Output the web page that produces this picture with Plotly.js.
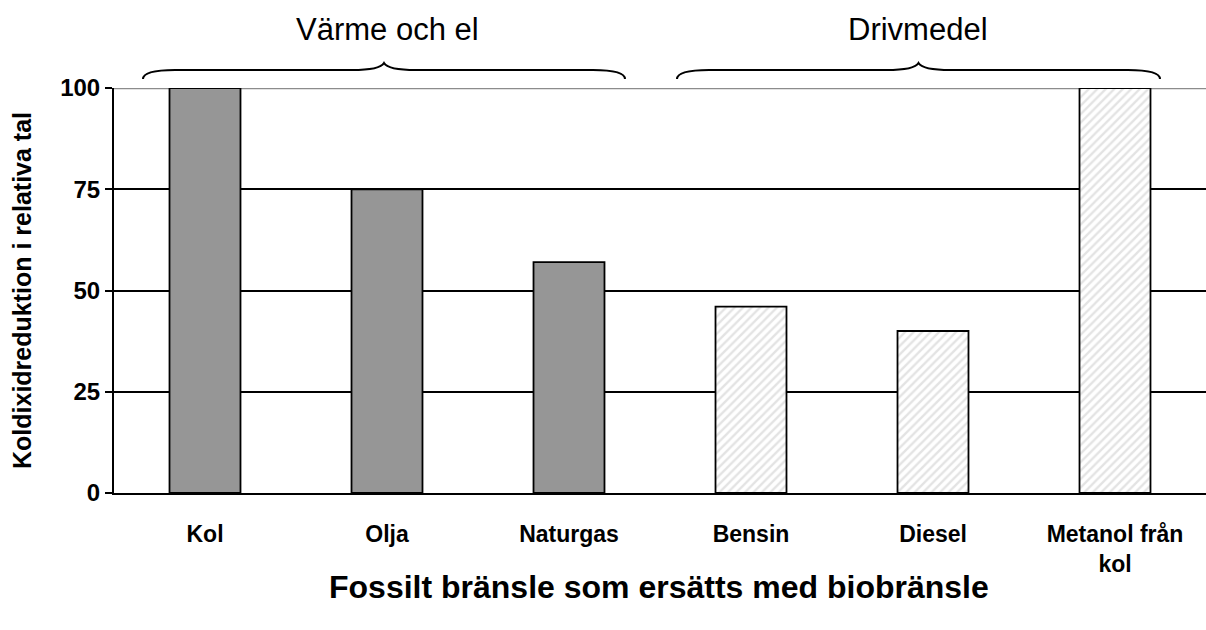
<!DOCTYPE html>
<html>
<head>
<meta charset="utf-8">
<script src="https://cdn.plot.ly/plotly-3.0.1.min.js"></script>
<style>html,body{margin:0;padding:0;background:#fff}#chart{width:1206px;height:630px}</style>
</head>
<body>
<div id="chart"></div>
<script>
const categories = ["Kol", "Olja", "Naturgas", "Bensin", "Diesel", "Metanol från<br>kol"];
const heatValues = [100, 75, 57, null, null, null];
const fuelValues = [null, null, null, 46, 40, 100];
const groupLabels = ["Värme och el", "Drivmedel"];
const xTitle = "Fossilt bränsle som ersätts med biobränsle";
const yTitle = "Koldixidreduktion i relativa tal";
const yTicks = [0, 25, 50, 75, 100];

const FONT = "Liberation Sans, Arial, sans-serif";
const W = 1206, H = 630;
const mL = 114, mR = 0, mT = 88, mB = 137;
const pw = W - mL - mR, ph = H - mT - mB;
const px = x => (x - mL) / pw;
const py = y => (H - mB - y) / ph;

function brace(x0, x1, yEnd, yFlat, yTip) {
  const mid = (x0 + x1) / 2;
  const c = 32;
  const P = (x, y) => px(x).toFixed(5) + "," + py(y).toFixed(5);
  return "M" + P(x0, yEnd) +
    " Q" + P(x0, yFlat) + " " + P(x0 + c, yFlat) +
    " L" + P(mid - c, yFlat) +
    " Q" + P(mid - 4, yFlat) + " " + P(mid, yTip) +
    " Q" + P(mid + 4, yFlat) + " " + P(mid + c, yFlat) +
    " L" + P(x1 - c, yFlat) +
    " Q" + P(x1, yFlat) + " " + P(x1, yEnd);
}

const heatTrace = {
  type: "bar", name: groupLabels[0],
  x: categories, y: heatValues,
  width: 0.39,
  marker: {color: "#969696", line: {color: "#000", width: 1.8}},
  hoverinfo: "x+y"
};
const fuelTrace = {
  type: "bar", name: groupLabels[1],
  x: categories, y: fuelValues,
  width: 0.39,
  marker: {
    color: "#ffffff",
    line: {color: "#000", width: 1.8},
    pattern: {shape: "/", fgcolor: "#c8c8c8", bgcolor: "#ffffff", size: 6, solidity: 0.4, fillmode: "overlay"}
  },
  hoverinfo: "x+y"
};

const layout = {
  width: W, height: H,
  margin: {l: mL, r: mR, t: mT, b: mB},
  paper_bgcolor: "#fff", plot_bgcolor: "#fff",
  showlegend: false,
  barmode: "overlay",
  font: {family: FONT, color: "#000"},
  xaxis: {
    type: "category",
    showline: true, linecolor: "#000", linewidth: 2,
    ticks: "outside", ticklen: 19, tickcolor: "rgba(0,0,0,0)",
    tickfont: {family: FONT, size: 23, color: "#000", weight: "bold"},
    automargin: false, fixedrange: true
  },
  yaxis: {
    range: [0, 100],
    tickvals: yTicks,
    ticktext: yTicks.map(v => "<b>" + v + "</b>"),
    showline: true, linecolor: "#000", linewidth: 2,
    ticks: "outside", ticklen: 7, tickwidth: 2, tickcolor: "#000",
    showgrid: true, gridcolor: "#000", gridwidth: 2,
    zeroline: false,
    tickfont: {family: FONT, size: 24, color: "#000"},
    title: {text: "<b>" + yTitle + "</b>", font: {family: FONT, size: 25, color: "#000"}, standoff: 21},
    automargin: false, fixedrange: true
  },
  shapes: [
    {type: "line", xref: "paper", yref: "y", x0: 0, x1: 1, y0: 100, y1: 100, line: {color: "#8c8c8c", width: 2.5}, layer: "below"},
    {type: "path", xref: "paper", yref: "paper", path: brace(143, 625, 79, 70, 63), line: {color: "#000", width: 2}},
    {type: "path", xref: "paper", yref: "paper", path: brace(677, 1160, 79, 70, 63), line: {color: "#000", width: 2}}
  ],
  annotations: [
    {xref: "paper", yref: "paper", x: px(387), y: py(30), text: groupLabels[0], showarrow: false, font: {family: FONT, size: 31, color: "#000"}, xanchor: "center", yanchor: "middle"},
    {xref: "paper", yref: "paper", x: px(918), y: py(30), text: groupLabels[1], showarrow: false, font: {family: FONT, size: 31, color: "#000"}, xanchor: "center", yanchor: "middle"},
    {xref: "paper", yref: "paper", x: px(659), y: py(587), text: "<b>" + xTitle + "</b>", showarrow: false, font: {family: FONT, size: 32, color: "#000"}, xanchor: "center", yanchor: "middle"}
  ]
};

Plotly.newPlot("chart", [heatTrace, fuelTrace], layout, {displayModeBar: false, staticPlot: true});
</script>
</body>
</html>
